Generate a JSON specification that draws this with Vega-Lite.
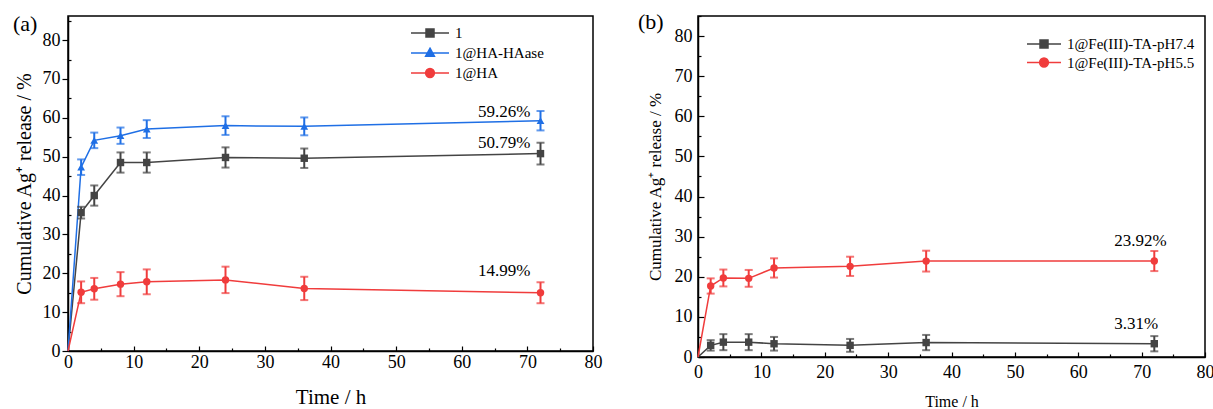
{
  "$schema": "https://vega.github.io/schema/vega-lite/v6.json",
  "background": "white",
  "padding": {"left": 12, "top": 10, "right": 5, "bottom": 0},
  "bounds": "flush",
  "spacing": 105,
  "config": {
    "font": "Liberation Serif",
    "view": {"stroke": "black", "strokeWidth": 1.5},
    "axis": {"domainColor": "black", "tickColor": "black", "labelColor": "black", "titleColor": "black", "titleFontWeight": "normal", "grid": false, "labelFont": "Liberation Serif", "titleFont": "Liberation Serif", "domainWidth": 1.5, "tickWidth": 1.2, "labelFlush": false, "labelOverlap": false},
    "legend": {"labelFont": "Liberation Serif", "labelFontSize": 15, "labelColor": "black", "padding": 0, "rowPadding": 0, "title": null, "symbolStrokeWidth": 1.5},
    "title": {"font": "Liberation Serif", "color": "black", "fontWeight": "normal"}
  },
  "resolve": {"scale": {"color": "independent"}},
  "datasets": {
    "a": [
      {"s": "1", "t": 0, "v": 0, "e": 0},
      {"s": "1", "t": 2, "v": 35.6, "e": 1.5},
      {"s": "1", "t": 4, "v": 40.0, "e": 2.6},
      {"s": "1", "t": 8, "v": 48.5, "e": 2.6},
      {"s": "1", "t": 12, "v": 48.5, "e": 2.6},
      {"s": "1", "t": 24, "v": 49.8, "e": 2.6},
      {"s": "1", "t": 36, "v": 49.6, "e": 2.5},
      {"s": "1", "t": 72, "v": 50.79, "e": 2.8, "label": "50.79%"},
      {"s": "1@HA-HAase", "t": 0, "v": 0, "e": 0},
      {"s": "1@HA-HAase", "t": 2, "v": 47.3, "e": 2.0},
      {"s": "1@HA-HAase", "t": 4, "v": 54.2, "e": 2.0},
      {"s": "1@HA-HAase", "t": 8, "v": 55.4, "e": 2.1},
      {"s": "1@HA-HAase", "t": 12, "v": 57.1, "e": 2.3},
      {"s": "1@HA-HAase", "t": 24, "v": 58.0, "e": 2.4},
      {"s": "1@HA-HAase", "t": 36, "v": 57.8, "e": 2.3},
      {"s": "1@HA-HAase", "t": 72, "v": 59.26, "e": 2.5, "label": "59.26%"},
      {"s": "1@HA", "t": 0, "v": 0, "e": 0},
      {"s": "1@HA", "t": 2, "v": 15.1, "e": 2.8},
      {"s": "1@HA", "t": 4, "v": 16.0, "e": 2.8},
      {"s": "1@HA", "t": 8, "v": 17.2, "e": 3.1},
      {"s": "1@HA", "t": 12, "v": 17.8, "e": 3.2},
      {"s": "1@HA", "t": 24, "v": 18.3, "e": 3.4},
      {"s": "1@HA", "t": 36, "v": 16.1, "e": 3.0},
      {"s": "1@HA", "t": 72, "v": 14.99, "e": 2.7, "label": "14.99%"}
    ],
    "b": [
      {"s": "1@Fe(III)-TA-pH7.4", "t": 0, "v": 0, "e": 0},
      {"s": "1@Fe(III)-TA-pH7.4", "t": 2, "v": 2.9, "e": 1.3},
      {"s": "1@Fe(III)-TA-pH7.4", "t": 4, "v": 3.7, "e": 2.0},
      {"s": "1@Fe(III)-TA-pH7.4", "t": 8, "v": 3.7, "e": 2.0},
      {"s": "1@Fe(III)-TA-pH7.4", "t": 12, "v": 3.3, "e": 1.7},
      {"s": "1@Fe(III)-TA-pH7.4", "t": 24, "v": 2.9, "e": 1.6},
      {"s": "1@Fe(III)-TA-pH7.4", "t": 36, "v": 3.6, "e": 1.9},
      {"s": "1@Fe(III)-TA-pH7.4", "t": 72, "v": 3.31, "e": 1.9, "label": "3.31%"},
      {"s": "1@Fe(III)-TA-pH5.5", "t": 0, "v": 0, "e": 0},
      {"s": "1@Fe(III)-TA-pH5.5", "t": 2, "v": 17.7, "e": 1.9},
      {"s": "1@Fe(III)-TA-pH5.5", "t": 4, "v": 19.7, "e": 2.1},
      {"s": "1@Fe(III)-TA-pH5.5", "t": 8, "v": 19.6, "e": 2.1},
      {"s": "1@Fe(III)-TA-pH5.5", "t": 12, "v": 22.2, "e": 2.4},
      {"s": "1@Fe(III)-TA-pH5.5", "t": 24, "v": 22.6, "e": 2.4},
      {"s": "1@Fe(III)-TA-pH5.5", "t": 36, "v": 23.9, "e": 2.6},
      {"s": "1@Fe(III)-TA-pH5.5", "t": 72, "v": 23.92, "e": 2.5, "label": "23.92%"}
    ]
  },
  "hconcat": [
    {
      "width": 525,
      "height": 335,
      "title": {"text": "(a)", "anchor": "start", "frame": "bounds", "offset": -37, "dx": -1, "fontSize": 22, "baseline": "alphabetic"},
      "data": {"name": "a"},
      "resolve": {"axis": {"x": "independent", "y": "independent"}},
      "layer": [
        {
          "mark": {"type": "line", "strokeWidth": 1.5},
          "encoding": {
            "x": {"field": "t", "type": "quantitative", "scale": {"domain": [0, 80], "nice": false},
              "axis": {"orient": "bottom", "values": [0, 10, 20, 30, 40, 50, 60, 70, 80], "tickSize": -5, "labelPadding": 7, "labelFontSize": 18, "title": "Time / h", "titleFontSize": 21, "titlePadding": 15}},
            "y": {"field": "v", "type": "quantitative", "scale": {"domain": [0, 86.2], "nice": false},
              "axis": {"orient": "left", "values": [0, 10, 20, 30, 40, 50, 60, 70, 80], "tickSize": 6, "labelPadding": 2, "labelFontSize": 18, "title": "Cumulative Ag⁺ release / %", "titleFontSize": 20, "titlePadding": 8}},
            "color": {"field": "s", "type": "nominal",
              "scale": {"domain": ["1", "1@HA-HAase", "1@HA"], "range": ["#444444", "#1f6fe5", "#f03c3c"]},
              "legend": {"orient": "none", "legendX": 342, "legendY": 8, "symbolSize": 256, "labelOffset": 27, "rowPadding": 3,
                "encode": {"symbols": {"update": {
                  "shape": {"signal": "datum.value === '1' ? 'M-1,0H3.75M0.875,-0.5H1.875V0.5H0.875Z' : datum.value === '1@HA-HAase' ? 'M-1,0H3.75M1.375,-0.6L1.925,0.4H0.825Z' : 'M-1,0H3.75M1.925,0A0.55,0.55 0 1 1 0.825,0A0.55,0.55 0 1 1 1.925,0Z'"},
                  "stroke": {"signal": "datum.value === '1' ? '#444444' : datum.value === '1@HA-HAase' ? '#1f6fe5' : '#f03c3c'"},
                  "fill": {"signal": "datum.value === '1' ? '#444444' : datum.value === '1@HA-HAase' ? '#1f6fe5' : '#f03c3c'"},
                  "strokeWidth": {"value": 1.5},
                  "opacity": {"value": 1}
                }}}}}
          }
        },
        {
          "transform": [{"filter": "datum.t > 0"}],
          "mark": {"type": "errorbar", "thickness": 2, "ticks": {"size": 8, "thickness": 2}},
          "encoding": {
            "x": {"field": "t", "type": "quantitative",
              "axis": {"orient": "bottom", "values": [5, 15, 25, 35, 45, 55, 65, 75], "tickSize": -3, "labels": false, "domain": false, "title": null}},
            "y": {"field": "v", "type": "quantitative",
              "axis": {"orient": "left", "values": [5, 15, 25, 35, 45, 55, 65, 75, 85], "tickSize": -3, "labels": false, "domain": false, "title": null}},
            "yError": {"field": "e"},
            "color": {"field": "s", "type": "nominal", "legend": null}
          }
        },
        {
          "transform": [{"filter": "datum.t > 0 && datum.s === '1'"}],
          "mark": {"type": "point", "filled": true, "size": 55, "opacity": 1, "shape": "square", "color": "#444444"},
          "encoding": {
            "x": {"field": "t", "type": "quantitative", "axis": null},
            "y": {"field": "v", "type": "quantitative", "axis": null}
          }
        },
        {
          "transform": [{"filter": "datum.t > 0 && datum.s === '1@HA-HAase'"}],
          "mark": {"type": "point", "filled": true, "size": 60, "opacity": 1, "shape": "triangle-up", "color": "#1f6fe5"},
          "encoding": {
            "x": {"field": "t", "type": "quantitative", "axis": null},
            "y": {"field": "v", "type": "quantitative", "axis": null}
          }
        },
        {
          "transform": [{"filter": "datum.t > 0 && datum.s === '1@HA'"}],
          "mark": {"type": "point", "filled": true, "size": 55, "opacity": 1, "shape": "circle", "color": "#f03c3c"},
          "encoding": {
            "x": {"field": "t", "type": "quantitative", "axis": null},
            "y": {"field": "v", "type": "quantitative", "axis": null}
          }
        },
        {
          "transform": [{"filter": "datum.label === '59.26%'"}],
          "mark": {"type": "text", "align": "right", "baseline": "alphabetic", "dx": -10, "dy": -4, "fontSize": 17, "color": "black"},
          "encoding": {
            "x": {"field": "t", "type": "quantitative", "axis": null},
            "y": {"field": "v", "type": "quantitative", "axis": null},
            "text": {"field": "label"}
          }
        },
        {
          "transform": [{"filter": "datum.label === '50.79%'"}],
          "mark": {"type": "text", "align": "right", "baseline": "alphabetic", "dx": -10, "dy": -6, "fontSize": 17, "color": "black"},
          "encoding": {
            "x": {"field": "t", "type": "quantitative", "axis": null},
            "y": {"field": "v", "type": "quantitative", "axis": null},
            "text": {"field": "label"}
          }
        },
        {
          "transform": [{"filter": "datum.label === '14.99%'"}],
          "mark": {"type": "text", "align": "right", "baseline": "alphabetic", "dx": -10, "dy": -17, "fontSize": 17, "color": "black"},
          "encoding": {
            "x": {"field": "t", "type": "quantitative", "axis": null},
            "y": {"field": "v", "type": "quantitative", "axis": null},
            "text": {"field": "label"}
          }
        }
      ]
    },
    {
      "width": 507,
      "height": 341,
      "title": {"text": "(b)", "anchor": "start", "frame": "bounds", "offset": -36, "dx": -8, "fontSize": 22, "baseline": "alphabetic"},
      "data": {"name": "b"},
      "resolve": {"axis": {"x": "independent", "y": "independent"}},
      "layer": [
        {
          "mark": {"type": "line", "strokeWidth": 1.5},
          "encoding": {
            "x": {"field": "t", "type": "quantitative", "scale": {"domain": [0, 80], "nice": false},
              "axis": {"orient": "bottom", "values": [0, 10, 20, 30, 40, 50, 60, 70, 80], "tickSize": -5, "labelPadding": 11, "labelFontSize": 18, "title": "Time / h", "titleFontSize": 16, "titlePadding": 12}},
            "y": {"field": "v", "type": "quantitative", "scale": {"domain": [0, 85], "nice": false},
              "axis": {"orient": "left", "values": [0, 10, 20, 30, 40, 50, 60, 70, 80], "tickSize": -6, "labelPadding": 12, "labelFontSize": 18, "title": "Cumulative Ag⁺ release / %", "titleFontSize": 17, "titlePadding": 10}},
            "color": {"field": "s", "type": "nominal",
              "scale": {"domain": ["1@Fe(III)-TA-pH7.4", "1@Fe(III)-TA-pH5.5"], "range": ["#444444", "#f03c3c"]},
              "legend": {"orient": "none", "legendX": 328, "legendY": 19, "symbolSize": 256, "labelOffset": 23, "rowPadding": 1.5,
                "encode": {"symbols": {"update": {
                  "shape": {"signal": "datum.value === '1@Fe(III)-TA-pH7.4' ? 'M-1,0H3.25M0.625,-0.5H1.625V0.5H0.625Z' : 'M-1,0H3.25M1.675,0A0.55,0.55 0 1 1 0.575,0A0.55,0.55 0 1 1 1.675,0Z'"},
                  "stroke": {"signal": "datum.value === '1@Fe(III)-TA-pH7.4' ? '#444444' : '#f03c3c'"},
                  "fill": {"signal": "datum.value === '1@Fe(III)-TA-pH7.4' ? '#444444' : '#f03c3c'"},
                  "strokeWidth": {"value": 1.5},
                  "opacity": {"value": 1}
                }}}}}
          }
        },
        {
          "transform": [{"filter": "datum.t > 0"}],
          "mark": {"type": "errorbar", "thickness": 2, "ticks": {"size": 8, "thickness": 2}},
          "encoding": {
            "x": {"field": "t", "type": "quantitative",
              "axis": {"orient": "bottom", "values": [5, 15, 25, 35, 45, 55, 65, 75], "tickSize": -3, "labels": false, "domain": false, "title": null}},
            "y": {"field": "v", "type": "quantitative",
              "axis": {"orient": "left", "values": [5, 15, 25, 35, 45, 55, 65, 75, 85], "tickSize": -3, "labels": false, "domain": false, "title": null}},
            "yError": {"field": "e"},
            "color": {"field": "s", "type": "nominal", "legend": null}
          }
        },
        {
          "transform": [{"filter": "datum.t > 0 && datum.s === '1@Fe(III)-TA-pH7.4'"}],
          "mark": {"type": "point", "filled": true, "size": 55, "opacity": 1, "shape": "square", "color": "#444444"},
          "encoding": {
            "x": {"field": "t", "type": "quantitative", "axis": null},
            "y": {"field": "v", "type": "quantitative", "axis": null}
          }
        },
        {
          "transform": [{"filter": "datum.t > 0 && datum.s === '1@Fe(III)-TA-pH5.5'"}],
          "mark": {"type": "point", "filled": true, "size": 55, "opacity": 1, "shape": "circle", "color": "#f03c3c"},
          "encoding": {
            "x": {"field": "t", "type": "quantitative", "axis": null},
            "y": {"field": "v", "type": "quantitative", "axis": null}
          }
        },
        {
          "transform": [{"filter": "datum.label != null"}],
          "mark": {"type": "text", "align": "left", "baseline": "alphabetic", "dx": -40, "dy": -15, "fontSize": 17, "color": "black"},
          "encoding": {
            "x": {"field": "t", "type": "quantitative", "axis": null},
            "y": {"field": "v", "type": "quantitative", "axis": null},
            "text": {"field": "label"}
          }
        }
      ]
    }
  ]
}
